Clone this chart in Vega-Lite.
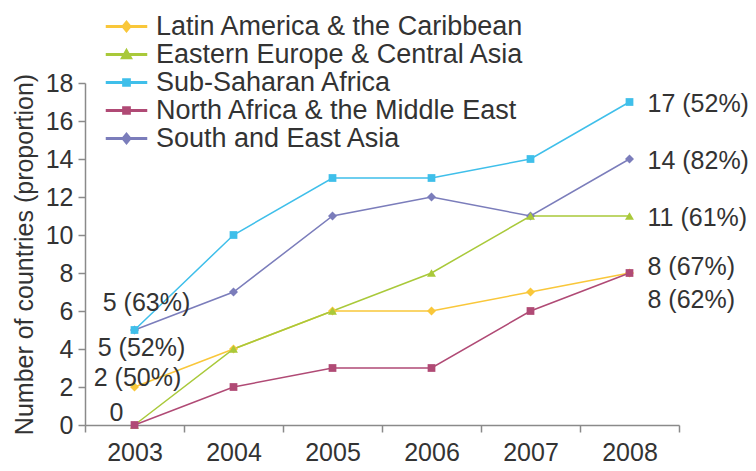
{
  "$schema": "https://vega.github.io/schema/vega-lite/v6.json",
  "width": 594,
  "height": 342,
  "autosize": {"type": "none"},
  "padding": {"left": 85, "top": 83, "right": 77, "bottom": 46},
  "background": "white",
  "config": {
    "view": {"stroke": null},
    "font": "Liberation Sans",
    "axis": {
      "domainColor": "#8a8a8a",
      "domainWidth": 1.5,
      "tickColor": "#8a8a8a",
      "tickWidth": 1.5,
      "tickSize": 7,
      "labelFontSize": 25,
      "labelColor": "#333333",
      "labelFont": "Liberation Sans",
      "grid": false,
      "titleFont": "Liberation Sans",
      "titleFontSize": 25,
      "titleFontWeight": "normal",
      "titleColor": "#333333"
    }
  },
  "datasets": {
    "series": [
      {"region": "Latin America & the Caribbean", "year": 2003, "count": 2},
      {"region": "Latin America & the Caribbean", "year": 2004, "count": 4},
      {"region": "Latin America & the Caribbean", "year": 2005, "count": 6},
      {"region": "Latin America & the Caribbean", "year": 2006, "count": 6},
      {"region": "Latin America & the Caribbean", "year": 2007, "count": 7},
      {"region": "Latin America & the Caribbean", "year": 2008, "count": 8},
      {"region": "Eastern Europe & Central Asia", "year": 2003, "count": 0},
      {"region": "Eastern Europe & Central Asia", "year": 2004, "count": 4},
      {"region": "Eastern Europe & Central Asia", "year": 2005, "count": 6},
      {"region": "Eastern Europe & Central Asia", "year": 2006, "count": 8},
      {"region": "Eastern Europe & Central Asia", "year": 2007, "count": 11},
      {"region": "Eastern Europe & Central Asia", "year": 2008, "count": 11},
      {"region": "Sub-Saharan Africa", "year": 2003, "count": 5},
      {"region": "Sub-Saharan Africa", "year": 2004, "count": 10},
      {"region": "Sub-Saharan Africa", "year": 2005, "count": 13},
      {"region": "Sub-Saharan Africa", "year": 2006, "count": 13},
      {"region": "Sub-Saharan Africa", "year": 2007, "count": 14},
      {"region": "Sub-Saharan Africa", "year": 2008, "count": 17},
      {"region": "North Africa & the Middle East", "year": 2003, "count": 0},
      {"region": "North Africa & the Middle East", "year": 2004, "count": 2},
      {"region": "North Africa & the Middle East", "year": 2005, "count": 3},
      {"region": "North Africa & the Middle East", "year": 2006, "count": 3},
      {"region": "North Africa & the Middle East", "year": 2007, "count": 6},
      {"region": "North Africa & the Middle East", "year": 2008, "count": 8},
      {"region": "South and East Asia", "year": 2003, "count": 5},
      {"region": "South and East Asia", "year": 2004, "count": 7},
      {"region": "South and East Asia", "year": 2005, "count": 11},
      {"region": "South and East Asia", "year": 2006, "count": 12},
      {"region": "South and East Asia", "year": 2007, "count": 11},
      {"region": "South and East Asia", "year": 2008, "count": 14}
    ],
    "labels": [
      {"year": 2008, "count": 17, "label": "17 (52%)"},
      {"year": 2008, "count": 14, "label": "14 (82%)"},
      {"year": 2008, "count": 11, "label": "11 (61%)"},
      {"year": 2008, "count": 8, "label": "8 (67%)"},
      {"year": 2008, "count": 8, "label": "8 (62%)"},
      {"year": 2003, "count": 5, "label": "5 (63%)"},
      {"year": 2003, "count": 5, "label": "5 (52%)"},
      {"year": 2003, "count": 2, "label": "2 (50%)"},
      {"year": 2003, "count": 0, "label": "0"}
    ]
  },
  "encoding": {
    "x": {
      "field": "year",
      "type": "ordinal",
      "scale": {"type": "band", "paddingInner": 0, "paddingOuter": 0},
      "axis": {"title": null, "labelAngle": 0, "tickBand": "extent", "labelPadding": 8}
    },
    "y": {
      "field": "count",
      "type": "quantitative",
      "scale": {"domain": [0, 18], "nice": false},
      "axis": {
        "title": "Number of countries (proportion)",
        "values": [0, 2, 4, 6, 8, 10, 12, 14, 16, 18],
        "labelPadding": 5,
        "titlePadding": 8
      }
    }
  },
  "layer": [
    {
      "data": {"name": "series"},
      "mark": {"type": "point", "filled": true, "size": 0},
      "encoding": {
        "color": {
          "field": "region",
          "type": "nominal",
          "scale": {
            "domain": ["Latin America & the Caribbean", "Eastern Europe & Central Asia", "Sub-Saharan Africa", "North Africa & the Middle East", "South and East Asia"],
            "range": ["#f9c73a", "#a9c93a", "#3fbfea", "#b04a75", "#7b7dbb"]
          },
          "legend": {
            "orient": "none",
            "legendX": 28,
            "legendY": -70,
            "title": null,
            "labelFontSize": 27,
            "labelFont": "Liberation Sans",
            "labelColor": "#333333",
            "labelLimit": 0,
            "symbolSize": 400,
            "symbolOpacity": 1,
            "labelOffset": 16,
            "rowPadding": 0
          }
        },
        "shape": {
          "field": "region",
          "type": "nominal",
          "scale": {
            "domain": ["Latin America & the Caribbean", "Eastern Europe & Central Asia", "Sub-Saharan Africa", "North Africa & the Middle East", "South and East Asia"],
            "range": [
              "M-2,-0.07H2V0.07H-2ZM0,-0.54L0.44,0L0,0.54L-0.44,0Z",
              "M-2,-0.07H2V0.07H-2ZM0,-0.52L0.52,0.4L-0.52,0.4Z",
              "M-2,-0.07H2V0.07H-2ZM-0.36,-0.36H0.36V0.36H-0.36Z",
              "M-2,-0.07H2V0.07H-2ZM-0.36,-0.36H0.36V0.36H-0.36Z",
              "M-2,-0.07H2V0.07H-2ZM0,-0.54L0.44,0L0,0.54L-0.44,0Z"
            ]
          },
          "legend": {
            "orient": "none",
            "legendX": 28,
            "legendY": -70,
            "title": null,
            "labelFontSize": 27,
            "labelFont": "Liberation Sans",
            "labelColor": "#333333",
            "labelLimit": 0,
            "symbolSize": 400,
            "symbolOpacity": 1,
            "labelOffset": 16,
            "rowPadding": 0
          }
        }
      }
    },
    {
      "data": {"name": "series"},
      "mark": {"type": "line", "strokeWidth": 1.5},
      "encoding": {"color": {"field": "region", "type": "nominal", "legend": null}}
    },
    {
      "data": {"name": "series"},
      "transform": [{"filter": "datum.region === 'Latin America & the Caribbean' || datum.region === 'South and East Asia'"}],
      "mark": {"type": "point", "filled": true, "opacity": 1, "size": 80, "shape": "diamond"},
      "encoding": {"color": {"field": "region", "type": "nominal", "legend": null}}
    },
    {
      "data": {"name": "series"},
      "transform": [{"filter": "datum.region === 'Eastern Europe & Central Asia'"}],
      "mark": {"type": "point", "filled": true, "opacity": 1, "size": 80, "shape": "triangle-up"},
      "encoding": {"color": {"field": "region", "type": "nominal", "legend": null}}
    },
    {
      "data": {"name": "series"},
      "transform": [{"filter": "datum.region === 'Sub-Saharan Africa' || datum.region === 'North Africa & the Middle East'"}],
      "mark": {"type": "point", "filled": true, "opacity": 1, "size": 60, "shape": "square"},
      "encoding": {"color": {"field": "region", "type": "nominal", "legend": null}}
    },
    {
      "data": {"name": "labels"},
      "transform": [{"filter": "datum.count >= 11"}],
      "mark": {"type": "text", "align": "left", "baseline": "middle", "dx": 18, "dy": 2, "fontSize": 25, "color": "#333333"},
      "encoding": {"text": {"field": "label"}}
    },
    {
      "data": {"name": "labels"},
      "transform": [{"filter": "datum.label === '8 (67%)'"}],
      "mark": {"type": "text", "align": "left", "baseline": "middle", "dx": 18, "dy": -6, "fontSize": 25, "color": "#333333"},
      "encoding": {"text": {"field": "label"}}
    },
    {
      "data": {"name": "labels"},
      "transform": [{"filter": "datum.label === '8 (62%)'"}],
      "mark": {"type": "text", "align": "left", "baseline": "middle", "dx": 18, "dy": 27, "fontSize": 25, "color": "#333333"},
      "encoding": {"text": {"field": "label"}}
    },
    {
      "data": {"name": "labels"},
      "transform": [{"filter": "datum.label === '5 (63%)'"}],
      "mark": {"type": "text", "align": "center", "baseline": "middle", "dx": 12, "dy": -27, "fontSize": 25, "color": "#333333"},
      "encoding": {"text": {"field": "label"}}
    },
    {
      "data": {"name": "labels"},
      "transform": [{"filter": "datum.label === '5 (52%)'"}],
      "mark": {"type": "text", "align": "center", "baseline": "middle", "dx": 7, "dy": 18, "fontSize": 25, "color": "#333333"},
      "encoding": {"text": {"field": "label"}}
    },
    {
      "data": {"name": "labels"},
      "transform": [{"filter": "datum.label === '2 (50%)'"}],
      "mark": {"type": "text", "align": "center", "baseline": "middle", "dx": 3, "dy": -9, "fontSize": 25, "color": "#333333"},
      "encoding": {"text": {"field": "label"}}
    },
    {
      "data": {"name": "labels"},
      "transform": [{"filter": "datum.label === '0'"}],
      "mark": {"type": "text", "align": "center", "baseline": "middle", "dx": -18, "dy": -12, "fontSize": 25, "color": "#333333"},
      "encoding": {"text": {"field": "label"}}
    }
  ]
}
